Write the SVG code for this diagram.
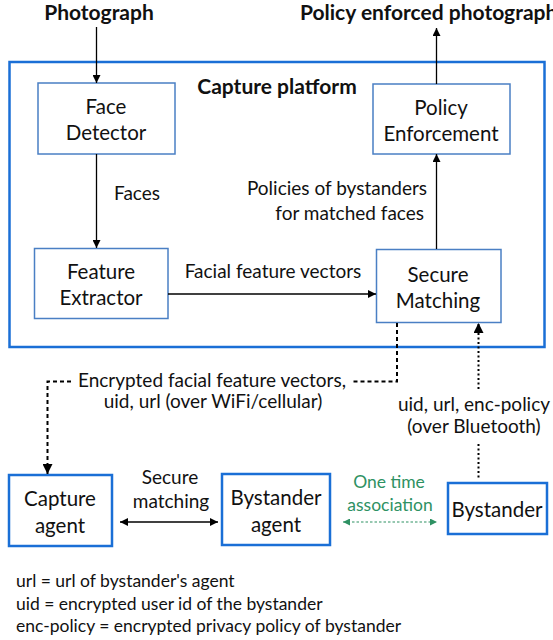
<svg xmlns="http://www.w3.org/2000/svg" width="553" height="640" viewBox="0 0 553 640">
<defs>
<marker id="ah" viewBox="0 0 10 10" refX="10" refY="5" markerWidth="10" markerHeight="8" markerUnits="userSpaceOnUse" orient="auto-start-reverse"><path d="M0,0 L10,5 L0,10 Z" fill="#000"/></marker>
<marker id="ahb" viewBox="0 0 10 10" refX="10" refY="5" markerWidth="12" markerHeight="10" markerUnits="userSpaceOnUse" orient="auto-start-reverse"><path d="M0,0 L10,5 L0,10 Z" fill="#000"/></marker>
<marker id="ahg" viewBox="0 0 10 10" refX="10" refY="5" markerWidth="8" markerHeight="7" markerUnits="userSpaceOnUse" orient="auto-start-reverse"><path d="M0,0 L10,5 L0,10 Z" fill="#2e9163"/></marker>
<style>
text{font-family:Lato,"Liberation Sans",sans-serif;fill:#111;text-anchor:middle}
.b{font-weight:bold;font-size:21px}
.n{font-size:20.5px}
.l{font-size:19px}
.g{font-size:17.5px;fill:#2e9163}
.s{font-size:17.5px;text-anchor:start}
.inner{fill:#fff;stroke:#4a7fc4;stroke-width:1.5}
.outer{fill:none;stroke:#1a6fd6;stroke-width:2.5}
.agent{fill:#fff;stroke:#1a6fd6;stroke-width:2.5}
.c{fill:none;stroke:#000;stroke-width:1.3}
</style>
</defs>
<text class="b" x="99" y="20">Photograph</text>
<text class="b" x="300" y="20" style="text-anchor:start">Policy enforced photograph</text>
<g id="capture-platform"><rect class="outer" x="9.5" y="62" width="535" height="285"/><text class="b" x="277" y="94">Capture platform</text></g>
<g id="face-detector"><rect class="inner" x="38" y="83" width="137" height="71"/><text class="n" x="106" y="114">Face</text><text class="n" x="106" y="140">Detector</text></g>
<g id="policy-enforcement"><rect class="inner" x="373" y="84" width="137" height="70"/><text class="n" x="441" y="115">Policy</text><text class="n" x="441" y="141">Enforcement</text></g>
<g id="feature-extractor"><rect class="inner" x="34.5" y="248.5" width="133.5" height="70"/><text class="n" x="101" y="279">Feature</text><text class="n" x="101" y="305">Extractor</text></g>
<g id="secure-matching"><rect class="inner" x="376.5" y="249.5" width="124.5" height="73"/><text class="n" x="438" y="282">Secure</text><text class="n" x="438" y="308">Matching</text></g>
<g id="capture-agent"><rect class="agent" x="9" y="475" width="103" height="71"/><text class="n" x="60" y="506">Capture</text><text class="n" x="60" y="533">agent</text></g>
<g id="bystander-agent"><rect class="agent" x="222" y="474" width="108" height="71"/><text class="n" x="276" y="505">Bystander</text><text class="n" x="276" y="532">agent</text></g>
<g id="bystander"><rect class="agent" x="448" y="483" width="99" height="51"/><text class="n" x="497" y="517">Bystander</text></g>
<g id="connectors">
<line class="c" x1="96.5" y1="27" x2="96.5" y2="83" marker-end="url(#ah)"/>
<line class="c" x1="436.5" y1="84" x2="436.5" y2="28" marker-end="url(#ah)"/>
<line class="c" x1="96.5" y1="154" x2="96.5" y2="248" marker-end="url(#ah)"/>
<line class="c" x1="436.5" y1="249" x2="436.5" y2="154" marker-end="url(#ah)"/>
<line class="c" x1="168" y1="294" x2="376" y2="294" marker-end="url(#ah)"/>
<polyline fill="none" stroke="#000" stroke-width="2" stroke-dasharray="4,3" points="397,323 397,381.5 353,381.5"/>
<polyline fill="none" stroke="#000" stroke-width="2" stroke-dasharray="4,3" points="71,381.5 47.5,381.5 47.5,474" marker-end="url(#ahb)"/>
<line fill="none" stroke="#000" stroke-width="2" stroke-dasharray="2,2.5" x1="478.5" y1="389" x2="478.5" y2="323" marker-end="url(#ahb)"/>
<line fill="none" stroke="#000" stroke-width="2" stroke-dasharray="2,2.5" x1="478.5" y1="444" x2="478.5" y2="479"/>
<line class="c" x1="120" y1="522" x2="218" y2="522" marker-start="url(#ah)" marker-end="url(#ah)"/>
<line fill="none" stroke="#2e9163" stroke-width="1.2" stroke-dasharray="2.5,2" x1="343" y1="522" x2="437" y2="522" marker-start="url(#ahg)" marker-end="url(#ahg)"/>
</g>
<text class="l" x="212" y="387">Encrypted facial feature vectors,</text>
<text class="l" x="137" y="200">Faces</text>
<text class="l" x="427" y="195" style="text-anchor:end">Policies of bystanders</text>
<text class="l" x="424" y="220" style="text-anchor:end">for matched faces</text>
<text class="l" x="273" y="278">Facial feature vectors</text>
<text class="l" x="213" y="408">uid, url (over WiFi/cellular)</text>
<text class="l" x="474" y="411">uid, url, enc-policy</text>
<text class="l" x="474" y="433">(over Bluetooth)</text>
<text class="l" x="170" y="484">Secure</text>
<text class="l" x="171" y="508">matching</text>
<text class="g" x="389" y="488">One time</text>
<text class="g" x="390" y="511">association</text>
<text class="s" x="16" y="587">url = url of bystander's agent</text>
<text class="s" x="16" y="610">uid = encrypted user id of the bystander</text>
<text class="s" x="16" y="632">enc-policy = encrypted privacy policy of bystander</text>
</svg>
